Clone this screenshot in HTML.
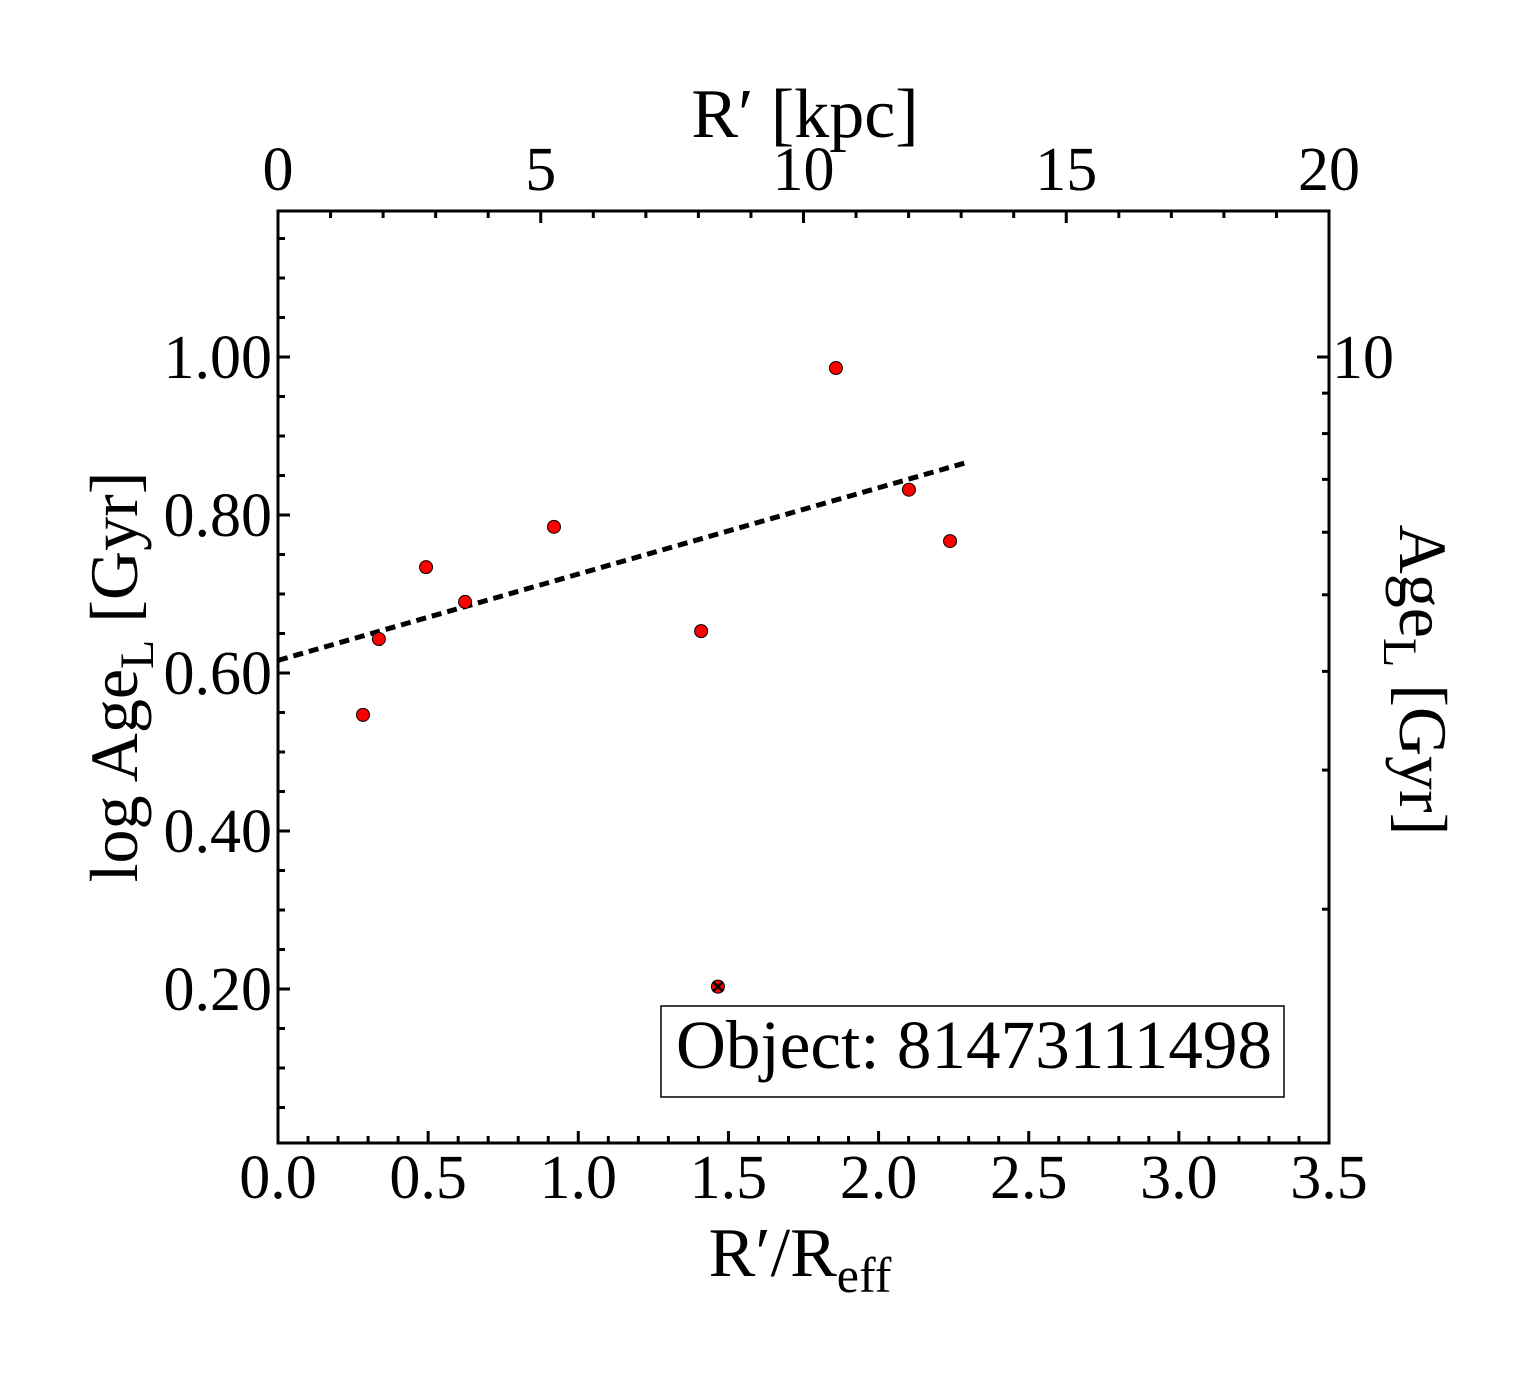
<!DOCTYPE html>
<html><head><meta charset="utf-8"><style>
body{margin:0;background:#fff}
svg text{font-family:"Liberation Serif",serif;fill:#000}
</style></head><body>
<svg id="chart" width="1540" height="1375" viewBox="0 0 1540 1375" xmlns="http://www.w3.org/2000/svg">
<g id="ticks"></g>
<g id="labels"></g>
<g id="marks"></g>
<rect x="278" y="211" width="1051" height="932" fill="none" stroke="#000" stroke-width="3"/>
<text x="805" y="137" font-size="70" text-anchor="middle">R′ [kpc]</text>
<text x="800" y="1276" font-size="70" text-anchor="middle">R′/R<tspan font-size="50" dy="16">eff</tspan></text>
<text transform="translate(137,677) rotate(-90)" font-size="68" text-anchor="middle">log Age<tspan font-size="48" dy="16">L</tspan><tspan dy="-16"> [Gyr]</tspan></text>
<text transform="translate(1400,680) rotate(90)" font-size="68" text-anchor="middle">Age<tspan font-size="48" dy="16">L</tspan><tspan dy="-16"> [Gyr]</tspan></text>
<g>
<rect x="661" y="1006" width="623" height="91" fill="#fff" stroke="#000" stroke-width="1.5"/>
<text x="676" y="1068" font-size="69" textLength="596">Object: 81473111498</text>
</g>
</svg>
<script>
const xVals=[0.283,0.336,0.493,0.623,0.919,1.409,1.858,2.101,2.238];
const yVals=[0.547,0.643,0.734,0.690,0.785,0.653,0.986,0.832,0.767];
const outlierX=[1.465];
const outlierY=[0.203];
const fitX=[0.0,2.298];
const fitY=[0.616,0.867];
const xTickLabels=["0.0","0.5","1.0","1.5","2.0","2.5","3.0","3.5"];
const yTickLabels=["0.20","0.40","0.60","0.80","1.00"];
const kpcTickLabels=["0","5","10","15","20"];
const ageTicks=[2,3,4,5,6,7,8,9,10];

const NS="http://www.w3.org/2000/svg";
const L=278,R=1329,T=211,B=1143;
const xs=v=>L+v*(R-L)/3.5;
const ys=v=>357+(1-v)*790;
const ks=v=>L+v*(R-L)/20;
function mk(tag,attrs,parent){const e=document.createElementNS(NS,tag);for(const k in attrs)e.setAttribute(k,attrs[k]);parent.appendChild(e);return e;}
const tk=document.getElementById('ticks'),lb=document.getElementById('labels'),mg=document.getElementById('marks');
function line(x1,y1,x2,y2){const e=mk('line',{x1,y1,x2,y2,stroke:'#000','stroke-width':3},tk);

}
for(let i=0;i<=35;i++){const v=i/10,x=xs(v),len=i%5===0?12:7;line(x,B,x,B-len);}
xTickLabels.forEach(s=>{const t=mk('text',{x:xs(parseFloat(s)),y:1198,'font-size':62,'text-anchor':'middle'},lb);t.textContent=s;

});
for(let i=0;i<=20;i++){const x=ks(i),len=i%5===0?12:7;line(x,T,x,T+len);}
kpcTickLabels.forEach(s=>{const t=mk('text',{x:ks(parseFloat(s)),y:190,'font-size':62,'text-anchor':'middle'},lb);t.textContent=s;

});
for(let i=0;i<=23;i++){const v=0.05*i;const y=ys(v);if(y<T||y>B)continue;const len=(i%4===0)?12:7;line(L,y,L+len,y);}
yTickLabels.forEach(s=>{const t=mk('text',{x:272,y:ys(parseFloat(s))+21,'font-size':62,'text-anchor':'end'},lb);t.textContent=s;

});
ageTicks.forEach(a=>{const y=ys(Math.log10(a));const len=a===10?12:7;line(R,y,R-len,y);});
{const t=mk('text',{x:1332,y:ys(1)+21,'font-size':62},lb);t.textContent="10";

}
{const e=mk('line',{x1:xs(fitX[0]),y1:ys(fitY[0]),x2:xs(fitX[1]),y2:ys(fitY[1]),stroke:'#000','stroke-width':5,'stroke-dasharray':'10 6'},mg);

}
xVals.forEach((v,i)=>{const c=mk('circle',{cx:xs(v),cy:ys(yVals[i]),r:6.5,fill:'#f00',stroke:'#000','stroke-width':1},mg);

});
outlierX.forEach((v,i)=>{const cx=xs(v),cy=ys(outlierY[i]);
const c=mk('circle',{cx,cy,r:6.5,fill:'#f00',stroke:'#000','stroke-width':1},mg);


const p=mk('path',{d:`M${cx-5},${cy-5}L${cx+5},${cy+5}M${cx-5},${cy+5}L${cx+5},${cy-5}`,stroke:'#000','stroke-width':2.5},mg);

});
</script>
</body></html>
